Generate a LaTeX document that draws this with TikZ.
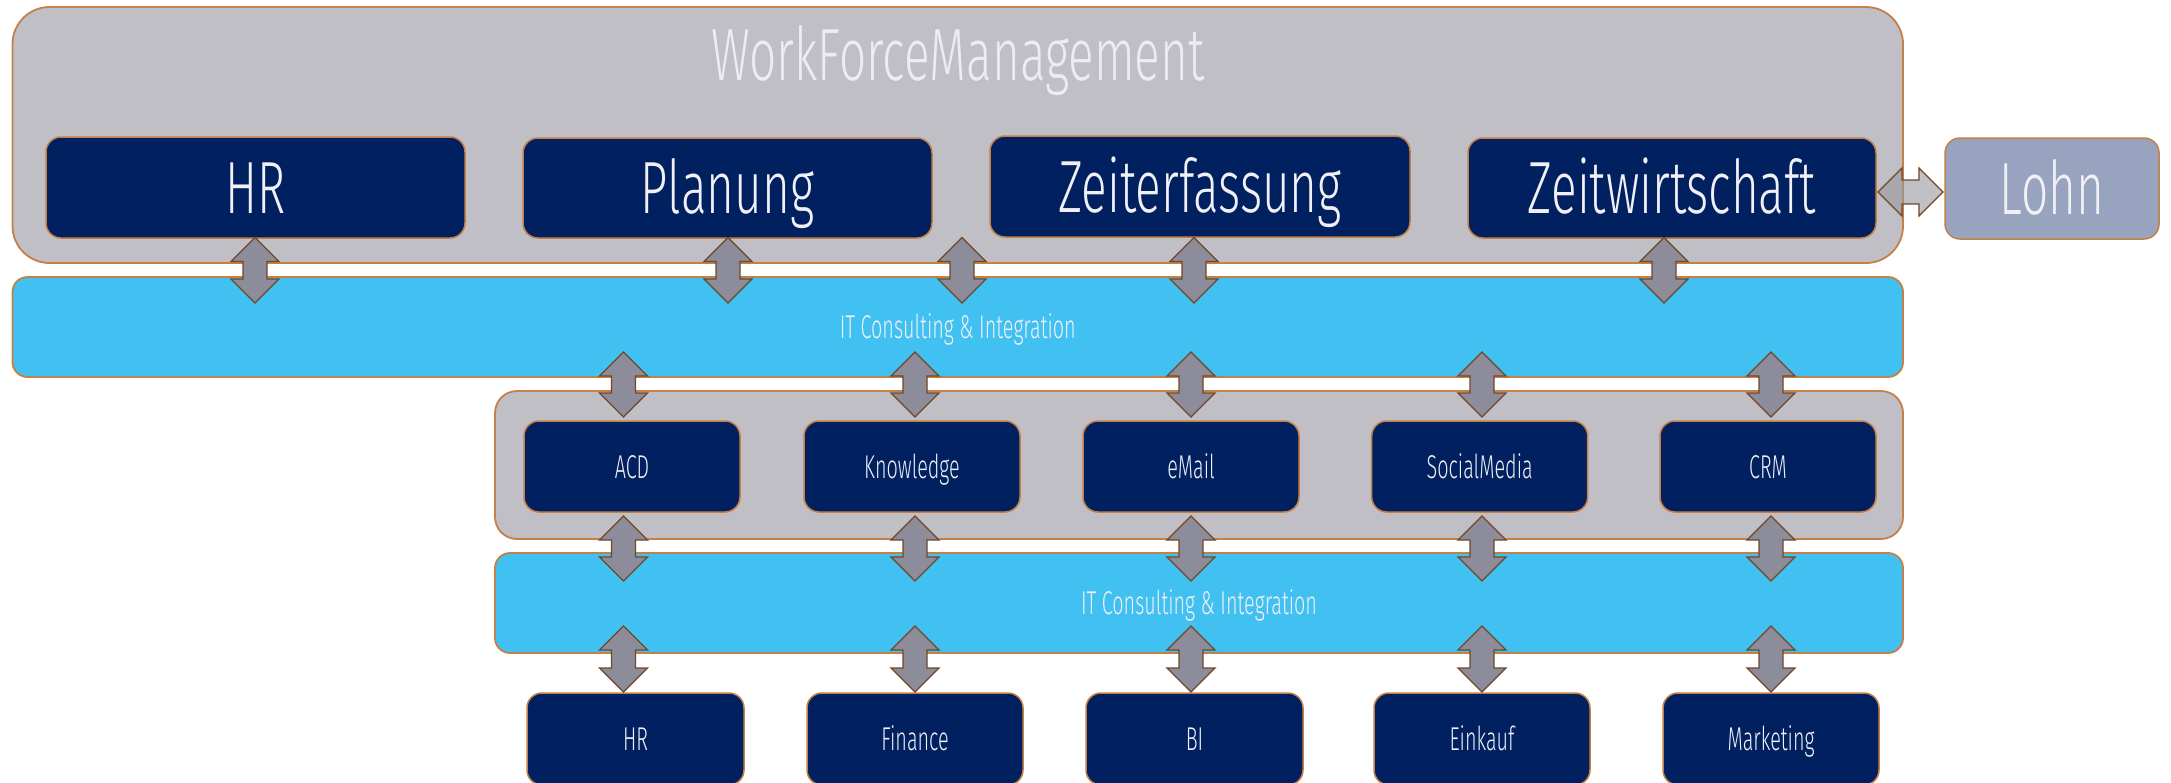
\documentclass[tikz,border=0pt]{standalone}
\usepackage{fontspec}
\setmainfont{Fira Sans Light}[FakeStretch=0.6]
\newfontfamily\bigfont{Fira Sans Light}[FakeStretch=0.645]
\usetikzlibrary{calc}
\definecolor{wfmgray}{RGB}{192,191,198}
\definecolor{edgec}{RGB}{196,128,70}
\definecolor{navyc}{RGB}{0,32,96}
\definecolor{bandc}{RGB}{64,193,241}
\definecolor{lohnc}{RGB}{152,164,191}
\definecolor{arrfill}{RGB}{140,140,154}
\definecolor{arredge}{RGB}{112,72,40}
\definecolor{txtc}{RGB}{240,240,246}
\definecolor{titlec}{RGB}{236,236,242}
\definecolor{lohnarr}{RGB}{153,153,160}
\newcommand\myvarrow[3][]{%
  \draw[dblarrow,#1] (#2) -- ++(-24,24) -- ++(12,0) -- ($(#3)+(-12,-24)$) -- ++(-12,0)
    -- (#3) -- ++(24,-24) -- ++(-12,0) -- ($(#2)+(12,24)$) -- ++(12,0) -- cycle;}
\newcommand\myharrow[3][]{%
  \draw[dblarrow,#1] (#2) -- ++(24,-24) -- ++(0,12) -- ($(#3)+(-24,-12)$) -- ++(0,-12)
    -- (#3) -- ++(-24,24) -- ++(0,-12) -- ($(#2)+(24,12)$) -- ++(0,12) -- cycle;}
\begin{document}
\begin{tikzpicture}[x=1pt,y=-1pt,
  container/.style={draw=edgec, line width=1.8pt, fill=wfmgray, inner sep=0pt},
  bandbox/.style={draw=edgec, line width=1.8pt, fill=bandc, rounded corners=15pt, inner sep=0pt,
    text=txtc, font=\fontsize{33}{36}\selectfont, text height=23pt, text depth=0pt},
  bigbox/.style={draw=edgec, line width=1.5pt, fill=navyc, rounded corners=15pt, inner sep=0pt,
    text=txtc, font=\bigfont\fontsize{74}{80}\selectfont, text height=51pt, text depth=0pt},
  smallbox/.style={draw=edgec, line width=1.5pt, fill=navyc, rounded corners=15pt, inner sep=0pt,
    text=txtc, font=\fontsize{33}{36}\selectfont, text height=23pt, text depth=0pt,
    minimum width=216pt},
  dblarrow/.style={draw=arredge, line width=1.3pt, fill=arrfill, line join=miter}
]
\useasboundingbox (0,0) rectangle (2171,782);
\clip (0,0) rectangle (2171,782);
\fill[white] (0,0) rectangle (2171,782);

% WorkForceManagement container
\node[container, rounded corners=37pt, minimum width=1890.5pt, minimum height=256pt] (wfm) at (957.75,135) {};
\node[text=titlec, font=\bigfont\fontsize{74}{80}\selectfont, text height=51pt, text depth=0pt, inner sep=0pt] (title) at (958,54.5) {WorkForceManagement};

\node[bigbox, minimum width=419pt, minimum height=101pt] (hr) at (255.5,187.5) {HR};
\node[bigbox, minimum width=409pt, minimum height=100pt] (planung) at (727.5,188) {Planung};
\node[bigbox, minimum width=420pt, minimum height=101pt] (zeiterf) at (1200,186.5) {Zeiterfassung};
\node[bigbox, minimum width=408pt, minimum height=100pt] (zeitw) at (1672,188) {Zeitwirtschaft};
\node[bigbox, fill=lohnc, minimum width=214pt, minimum height=101pt] (lohn) at (2052,188.5) {Lohn};

% first integration band
\node[bandbox, minimum width=1890.5pt, minimum height=100pt] (band1) at (957.75,327) {IT Consulting \& Integration};

% channel container
\node[container, rounded corners=22pt, minimum width=1408pt, minimum height=148pt] (chan) at (1199,465) {};
\node[smallbox, minimum height=91pt] (acd) at (632,466.5) {ACD};
\node[smallbox, minimum height=91pt] (know) at (912,466.5) {Knowledge};
\node[smallbox, minimum height=91pt] (email) at (1191,466.5) {eMail};
\node[smallbox, minimum height=91pt] (social) at (1479.7,466.5) {SocialMedia};
\node[smallbox, minimum height=91pt] (crm) at (1768,466.5) {CRM};

% second integration band
\node[bandbox, minimum width=1408pt, minimum height=100pt] (band2) at (1199,603) {IT Consulting \& Integration};

% back-office systems
\node[smallbox, minimum height=92pt, minimum width=217pt] (hr2) at (635.5,739) {HR};
\node[smallbox, minimum height=92pt] (fin) at (915,739) {Finance};
\node[smallbox, minimum height=92pt, minimum width=217pt] (bi) at (1194.5,739) {BI};
\node[smallbox, minimum height=92pt] (eink) at (1482,739) {Einkauf};
\node[smallbox, minimum height=92pt] (mark) at (1771,739) {Marketing};

% arrows WFM <-> band 1
\foreach \x [count=\i] in {255,728,962,1194,1664}{
  \coordinate (ua\i) at (\x,237.5);
  \coordinate (ub\i) at (\x,303);
  \myvarrow{ua\i}{ub\i}
}
% arrows band 1 <-> channels, channels <-> band 2, band 2 <-> systems
\foreach \x [count=\i] in {623.5,915,1191,1482,1771}{
  \coordinate (va\i) at (\x,352);
  \coordinate (vb\i) at (\x,417);
  \coordinate (wa\i) at (\x,516);
  \coordinate (wb\i) at (\x,581);
  \coordinate (xa\i) at (\x,626);
  \coordinate (xb\i) at (\x,692);
  \myvarrow{va\i}{vb\i}
  \myvarrow{wa\i}{wb\i}
  \myvarrow{xa\i}{xb\i}
}
% Zeitwirtschaft <-> Lohn
\coordinate (la) at (1878,192);
\coordinate (lb) at (1943,192);
\myharrow[fill=lohnarr, fill opacity=0.62]{la}{lb}
\end{tikzpicture}
\end{document}
